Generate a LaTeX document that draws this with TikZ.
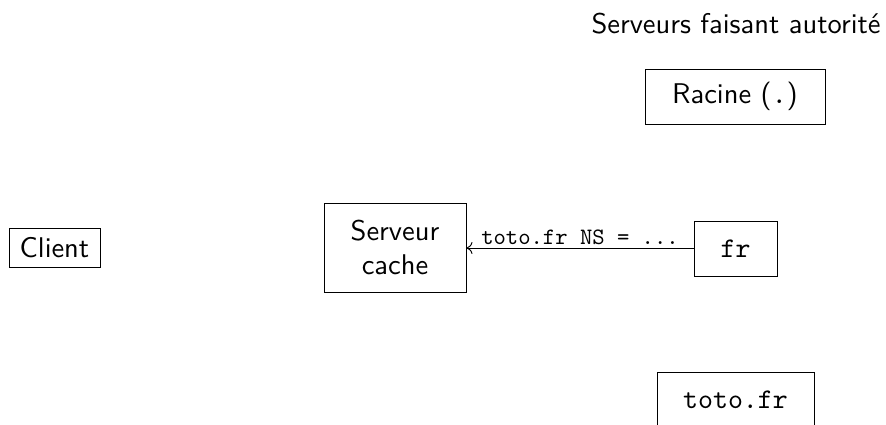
\documentclass[tikz,border=0pt]{standalone}
\usepackage{fontspec}
\newfontfamily\lmsansten{lmsans10-regular.otf}
\newfontfamily\lmmonoten{lmmono10-regular.otf}
\usetikzlibrary{arrows.meta}
\begin{document}
\begin{tikzpicture}[x=1pt,y=-1pt,
  base/.style={font=\lmsansten\fontsize{28.5}{34.2}\selectfont},
  box/.style={base,draw,line width=0.95pt,inner sep=0pt,minimum height=55pt},
  ttbox/.style={box,font=\lmmonoten\fontsize{28.5}{34.2}\selectfont},
  lbl/.style={font=\lmmonoten\fontsize{23.5}{28}\selectfont,inner sep=3pt}
]
\useasboundingbox (0,0) rectangle (886,425);
\node[base,inner sep=0pt] (title) at (736,24) {Serveurs faisant autorit\'e};
\node[box,minimum width=180pt] (racine) at (735,96.5) {Racine ({\lmmonoten .})};
\node[ttbox,minimum width=83pt] (fr) at (735.5,248.5) {fr};
\node[ttbox,minimum width=157pt] (toto) at (735.5,399.5) {toto.fr};
\node[box,minimum width=91pt,minimum height=39pt] (client) at (54.5,247.5) {Client};
\node[box,minimum width=142pt,minimum height=89pt,align=center] (cache) at (395,247.5) {Serveur\\cache};
\draw[line width=0.95pt,-{To[length=6pt,width=12pt]}] (fr.west |- 0,248) -- node[lbl,above] {toto.fr NS = ...} (cache.east |- 0,248);
\end{tikzpicture}
\end{document}
